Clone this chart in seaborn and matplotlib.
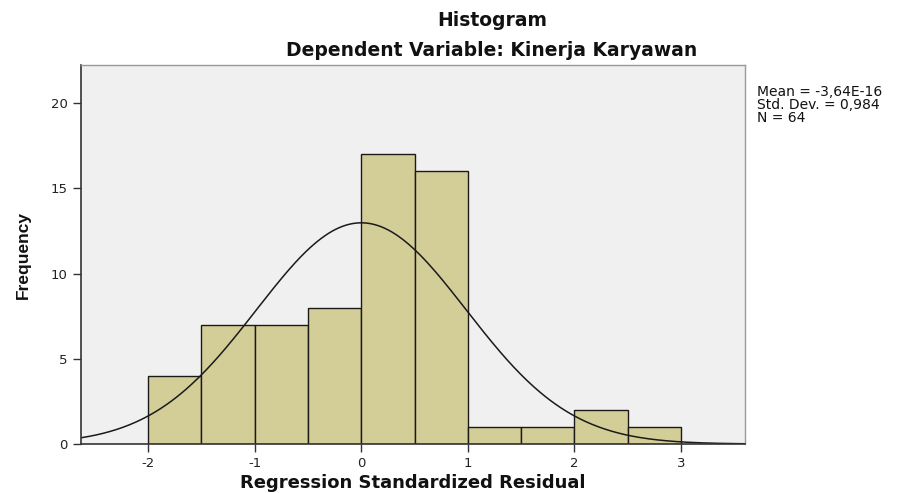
import numpy as np
import pandas as pd
import matplotlib
matplotlib.use("Agg")
import matplotlib.pyplot as plt
import seaborn as sns

# data
bin_edges = [-2.0, -1.5, -1.0, -0.5, 0.0, 0.5, 1.0, 1.5, 2.0, 2.5, 3.0]
counts = [4, 7, 7, 8, 17, 16, 1, 1, 2, 1]
mean_val = -3.64e-16
std_val = 0.984
n_obs = 64
x_ticks = [-2, -1, 0, 1, 2, 3]
y_ticks = [0, 5, 10, 15, 20]

sns.set_style("white")
plt.rcParams['font.family'] = ['DejaVu Sans']
plt.rcParams['axes.unicode_minus'] = False
plt.rcParams['text.color'] = "#111111"
plt.rcParams['axes.labelcolor'] = "#111111"

centers = [(a + b) / 2 for a, b in zip(bin_edges[:-1], bin_edges[1:])]
df = pd.DataFrame({"resid": centers, "n": counts})

fig = plt.figure(figsize=(9, 4.93), dpi=100)
ax = fig.add_axes([81 / 900, 1 - 444 / 493, (745 - 81) / 900, (444 - 65) / 493])
ax.set_facecolor("#f0f0f0")

sns.histplot(data=df, x="resid", weights="n", bins=bin_edges, ax=ax,
             color="#d3ce97", edgecolor="#1a1a1a", linewidth=1.0, alpha=1)

# normal curve scaled to the histogram
bw = bin_edges[1] - bin_edges[0]
xs = np.linspace(-2.63, 3.6, 400)
ys = n_obs * bw / (std_val * np.sqrt(2 * np.pi)) * np.exp(-0.5 * ((xs - mean_val) / std_val) ** 2)
sns.lineplot(x=xs, y=ys, ax=ax, color="#1a1a1a", linewidth=1.1)

ax.set_xlim(-2.63, 3.6)
ax.set_ylim(0, 22.23)
ax.set_xticks(x_ticks)
ax.set_yticks(y_ticks)
ax.tick_params(axis="both", labelsize=9.5, length=6, width=1, color="#333333",
               labelcolor="#222222", direction="out", bottom=True, left=True)
for s in ["left", "bottom"]:
    ax.spines[s].set_color("#333333")
    ax.spines[s].set_linewidth(1.2)
for s in ["top", "right"]:
    ax.spines[s].set_color("#999999")
    ax.spines[s].set_linewidth(1.0)

ax.set_xlabel("Regression Standardized Residual", fontsize=13, fontweight="bold", labelpad=3)
ax.set_ylabel("Frequency", fontsize=12.5, fontweight="bold", labelpad=14,
              family=["Liberation Sans"])

fig.text(492 / 900, 1 - 20 / 493, "Histogram", ha="center", va="center",
         fontsize=13.5, fontweight="bold")
fig.text(492 / 900, 1 - 50 / 493, "Dependent Variable: Kinerja Karyawan", ha="center",
         va="center", fontsize=13.5, fontweight="bold")

stats = "Mean = -3,64E-16\nStd. Dev. = 0,984\nN = 64"
fig.text(757 / 900, 1 - 85 / 493, stats, ha="left", va="top", fontsize=10,
         linespacing=0.9)

fig.savefig("out.png", dpi=100)
